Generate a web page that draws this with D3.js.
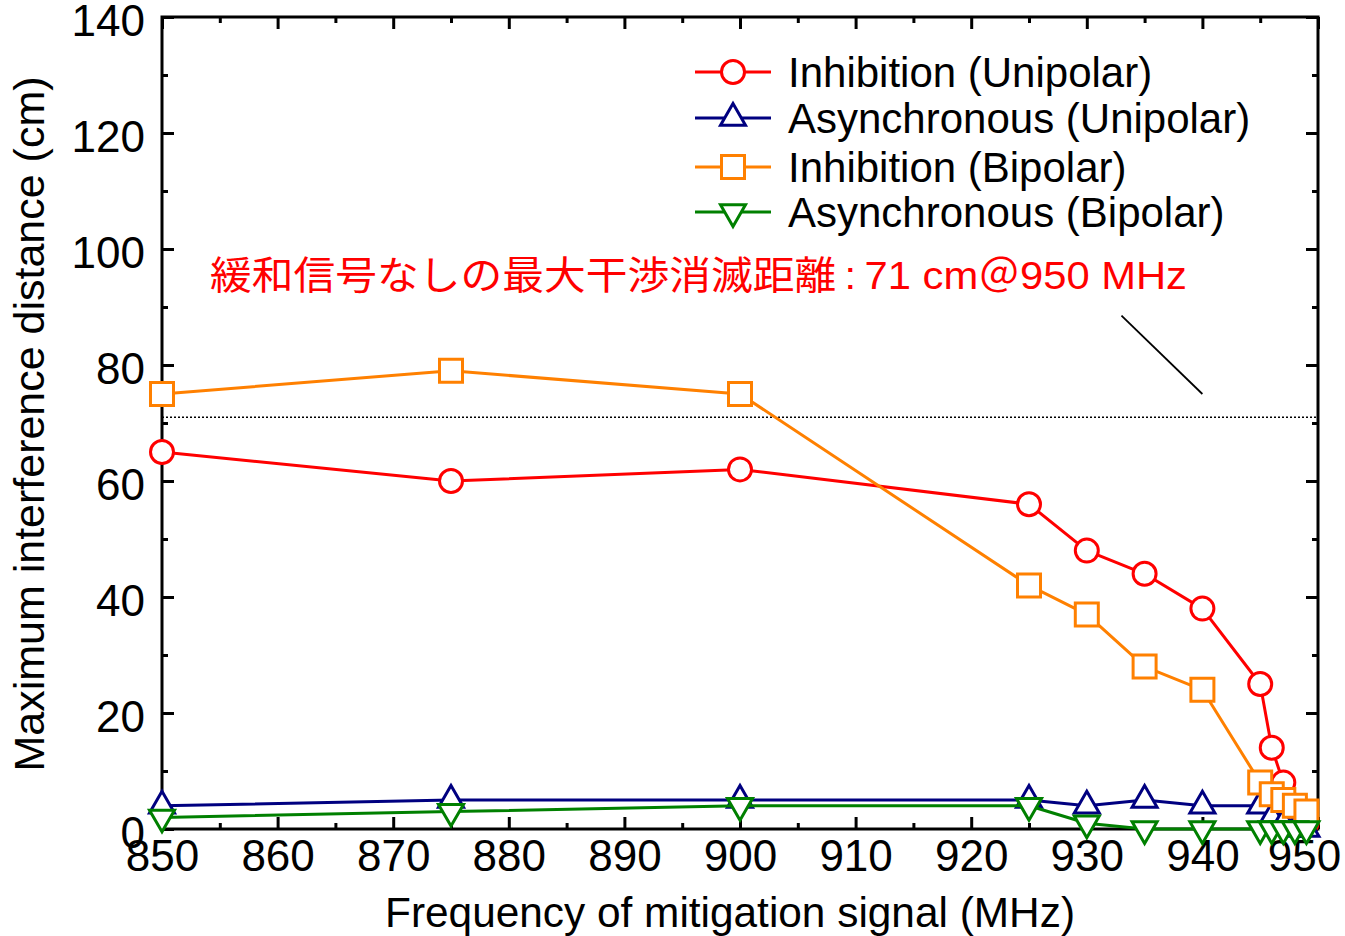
<!DOCTYPE html>
<html>
<head>
<meta charset="utf-8">
<script src="https://cdn.jsdelivr.net/npm/d3@7"></script>
<style>
  html, body { margin: 0; padding: 0; background: #fff; }
  svg { display: block; }
  text { font-family: "Liberation Sans", Arial, "Noto Sans CJK JP", sans-serif; }
</style>
</head>
<body>
<svg id="chart" width="1345" height="936"></svg>
<script>
// ---------- DATA ----------
const freqs = [850, 875, 900, 925, 930, 935, 940, 945, 946, 947, 948, 949];
const inhibitionUnipolar   = [65, 60, 62, 56, 48, 44, 38, 25, 14, 8, 4, 1];
const asynchronousUnipolar = [4, 5, 5, 5, 4, 5, 4, 4, 2, 1, 0, 0];
const inhibitionBipolar    = [75, 79, 75, 42, 37, 28, 24, 8, 6, 5, 4, 3];
const asynchronousBipolar  = [2, 3, 4, 4, 1, 0, 0, 0, 0, 0, 0, 0];

const seriesNames  = ["Inhibition (Unipolar)", "Asynchronous (Unipolar)", "Inhibition (Bipolar)", "Asynchronous (Bipolar)"];
const seriesColors = ["#ff0000", "#000080", "#ff8000", "#008000"];
const seriesMarkers = ["circle", "triangleUp", "square", "triangleDown"];

const xMajorTicks = [850, 860, 870, 880, 890, 900, 910, 920, 930, 940, 950];
const xMinorTicks = [855, 865, 875, 885, 895, 905, 915, 925, 935, 945];
const yMajorTicks = [0, 20, 40, 60, 80, 100, 120, 140];
const yMinorTicks = [10, 30, 50, 70, 90, 110, 130];

const referenceDistance = 71;  // cm @ 950 MHz without mitigation
const annotationText = "緩和信号なしの最大干渉消滅距離\u2009:\u200971 cm＠950 MHz";
const annotationLine = [[933, 88.5], [940, 75]];

const xTitle = "Frequency of mitigation signal (MHz)";
const yTitle = "Maximum interference distance (cm)";

// ---------- LAYOUT ----------
const svg = d3.select("#chart");
const L = 162, R = 1318, T = 17, B = 829;
const x = d3.scaleLinear().domain([850, 950]).range([L, R]);
const y = d3.scaleLinear().domain([0, 140]).range([B, T]);

const seriesValues = [inhibitionUnipolar, asynchronousUnipolar, inhibitionBipolar, asynchronousBipolar];
const series = seriesNames.map((name, i) => ({
  name, color: seriesColors[i], marker: seriesMarkers[i],
  points: freqs.map((f, j) => ({ f, v: seriesValues[i][j] }))
}));

// ---------- AXES ----------
function styleAxis(g, fontSize) {
  g.select(".domain").remove();
  g.selectAll(".tick line").attr("stroke", "#000").attr("stroke-width", 3);
  g.selectAll(".tick text").attr("fill", "#000").style("font-size", fontSize + "px")
    .style("font-family", '"Liberation Sans", Arial, sans-serif');
}
// bottom
svg.append("g").attr("transform", `translate(0,${B})`)
  .call(d3.axisBottom(x).tickValues(xMajorTicks).tickSize(-12).tickPadding(11).tickFormat(d3.format("d")))
  .call(g => styleAxis(g, 44))
  .call(g => g.selectAll(".tick text").filter(d => d === 950).attr("dx", -14));
svg.append("g").attr("transform", `translate(0,${B})`)
  .call(d3.axisBottom(x).tickValues(xMinorTicks).tickSize(-6).tickFormat(""))
  .call(g => styleAxis(g, 44));
// top
svg.append("g").attr("transform", `translate(0,${T})`)
  .call(d3.axisTop(x).tickValues(xMajorTicks).tickSize(-12).tickFormat(""))
  .call(g => styleAxis(g, 44));
svg.append("g").attr("transform", `translate(0,${T})`)
  .call(d3.axisTop(x).tickValues(xMinorTicks).tickSize(-6).tickFormat(""))
  .call(g => styleAxis(g, 44));
// left
svg.append("g").attr("transform", `translate(${L},0)`)
  .call(d3.axisLeft(y).tickValues(yMajorTicks).tickSize(-12).tickPadding(17).tickFormat(d3.format("d")))
  .call(g => styleAxis(g, 44))
  .call(g => g.selectAll(".tick text").attr("dy", "0.42em"));
svg.append("g").attr("transform", `translate(${L},0)`)
  .call(d3.axisLeft(y).tickValues(yMinorTicks).tickSize(-6).tickFormat(""))
  .call(g => styleAxis(g, 44));
// right
svg.append("g").attr("transform", `translate(${R},0)`)
  .call(d3.axisRight(y).tickValues(yMajorTicks).tickSize(-12).tickFormat(""))
  .call(g => styleAxis(g, 44));
svg.append("g").attr("transform", `translate(${R},0)`)
  .call(d3.axisRight(y).tickValues(yMinorTicks).tickSize(-6).tickFormat(""))
  .call(g => styleAxis(g, 44));

// frame
svg.append("rect").attr("x", L).attr("y", T).attr("width", R - L).attr("height", B - T)
  .attr("fill", "none").attr("stroke", "#000").attr("stroke-width", 3);

// axis titles
svg.append("text").attr("x", (L + R) / 2 - 10).attr("y", 927).attr("text-anchor", "middle")
  .style("font-size", "42px").attr("textLength", 690).attr("lengthAdjust", "spacingAndGlyphs").text(xTitle);
svg.append("text").attr("transform", `translate(44,${(T + B) / 2 + 1}) rotate(-90)`).attr("text-anchor", "middle")
  .style("font-size", "42px").attr("textLength", 695).attr("lengthAdjust", "spacingAndGlyphs").text(yTitle);

// reference dotted line
svg.append("line").attr("x1", x(850)).attr("x2", x(950)).attr("y1", y(referenceDistance)).attr("y2", y(referenceDistance))
  .attr("stroke", "#000").attr("stroke-width", 1.5).attr("stroke-dasharray", "2,2");

// annotation
svg.append("line")
  .attr("x1", x(annotationLine[0][0])).attr("y1", y(annotationLine[0][1]))
  .attr("x2", x(annotationLine[1][0])).attr("y2", y(annotationLine[1][1]))
  .attr("stroke", "#000").attr("stroke-width", 1.8);
svg.append("text").attr("x", 210).attr("y", 289).attr("fill", "#ff0000")
  .style("font-size", "39px").style("font-family", '"Liberation Sans", Arial, "Noto Sans CJK JP", sans-serif')
  .attr("textLength", 977).attr("lengthAdjust", "spacingAndGlyphs").text(annotationText);

// ---------- MARKERS ----------
function markerPath(type) {
  switch (type) {
    case "circle": return d3.symbol(d3.symbolCircle, Math.PI * 11.5 * 11.5)();
    case "square": return d3.symbol(d3.symbolSquare, 23 * 23)();
    case "triangleUp":
    case "triangleDown": return d3.symbol(d3.symbolTriangle, Math.sqrt(3) / 4 * 25 * 25)();
  }
}
function markerRot(type) { return type === "triangleDown" ? " rotate(180)" : ""; }

const lineGen = d3.line().x(d => x(d.f)).y(d => y(d.v));

series.forEach(s => {
  const g = svg.append("g");
  g.append("path").datum(s.points).attr("d", lineGen)
    .attr("fill", "none").attr("stroke", s.color).attr("stroke-width", 3).attr("stroke-linejoin", "round");
  g.selectAll("path.m").data(s.points).join("path").attr("class", "m")
    .attr("d", markerPath(s.marker))
    .attr("transform", d => `translate(${x(d.f)},${y(d.v)})${markerRot(s.marker)}`)
    .attr("fill", "#fff").attr("stroke", s.color).attr("stroke-width", 3);
});

// ---------- LEGEND ----------
const legendRows = [72, 118, 167, 212];
const legend = svg.append("g");
series.forEach((s, i) => {
  const cy = legendRows[i];
  legend.append("line").attr("x1", 695).attr("x2", 771).attr("y1", cy).attr("y2", cy)
    .attr("stroke", s.color).attr("stroke-width", 3);
  legend.append("path").attr("d", markerPath(s.marker))
    .attr("transform", `translate(733,${cy})${markerRot(s.marker)}`)
    .attr("fill", "#fff").attr("stroke", s.color).attr("stroke-width", 3);
  legend.append("text").attr("x", 788).attr("y", cy + 15).style("font-size", "42px").attr("fill", "#000").text(s.name);
});
</script>
</body>
</html>
